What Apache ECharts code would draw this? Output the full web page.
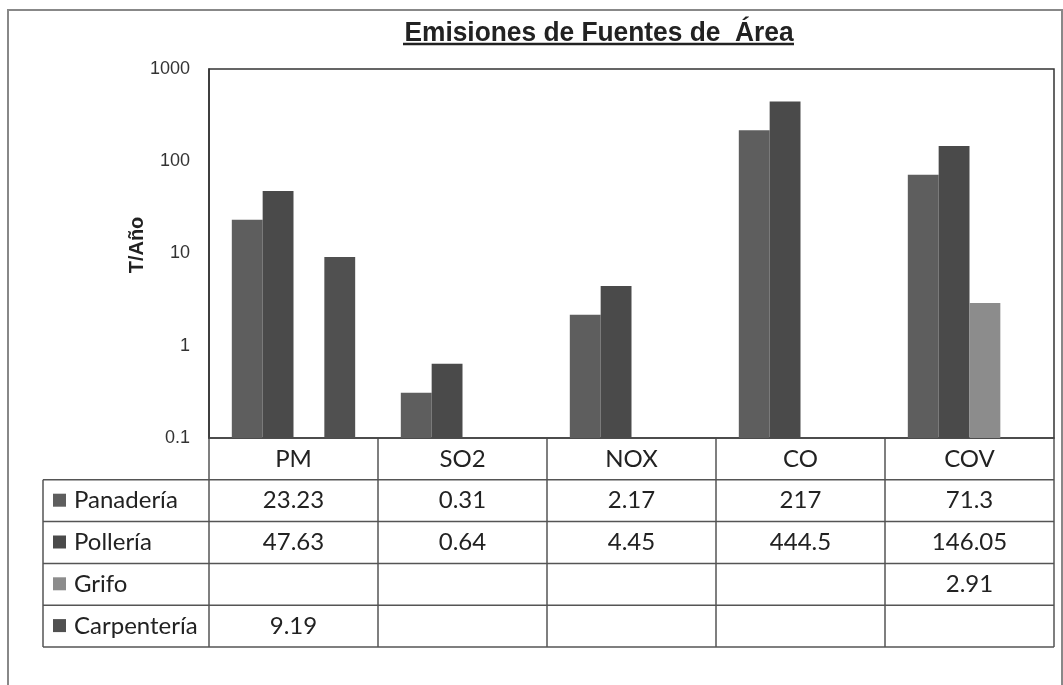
<!DOCTYPE html>
<html>
<head>
<meta charset="utf-8">
<script src="https://cdn.jsdelivr.net/npm/echarts@6/dist/echarts.min.js"></script>
<style>
	html, body { margin: 0; padding: 0; background: #fff; }
	#chart { width: 1063px; height: 685px; }
</style>
</head>
<body>
<div id="chart"></div>
<script>
	const categories = ["PM", "SO2", "NOX", "CO", "COV"];
	const seriesNames = ["Panadería", "Pollería", "Grifo", "Carpentería"];
	const panaderia = [23.23, 0.31, 2.17, 217, 71.3];
	const polleria = [47.63, 0.64, 4.45, 444.5, 146.05];
	const grifo = [null, null, null, null, 2.91];
	const carpenteria = [9.19, null, null, null, null];
	const yTicks = [0.1, 1, 10, 100, 1000];

	const seriesData = [panaderia, polleria, grifo, carpenteria];
	const colors = ["#5e5e5e", "#4a4a4a", "#8c8c8c", "#505050"];

	const tableFont = "Lato, 'DejaVu Sans', sans-serif";
	const arial = "'Liberation Sans', Arial, sans-serif";
	const chart = echarts.init(document.getElementById("chart"));

	const series = seriesNames.map((name, i) => ({
		name: name,
		type: "bar",
		data: seriesData[i],
		barGap: "0%",
		barCategoryGap: "27%",
		itemStyle: { color: colors[i] },
		emphasis: { disabled: true }
	}));

	chart.setOption({
		animation: false,
		backgroundColor: "#fff",
		grid: {
			left: 209,
			right: 9,
			top: 69,
			bottom: 247,
			show: true,
			borderColor: "#333",
			borderWidth: 1.5
		},
		xAxis: {
			type: "category",
			data: categories,
			axisLine: { lineStyle: { color: "#444", width: 1.5 } },
			axisTick: { show: false },
			axisLabel: { show: false }
		},
		yAxis: {
			type: "log",
			logBase: 10,
			min: yTicks[0],
			max: yTicks[yTicks.length - 1],
			startValue: yTicks[0],
			axisLine: { show: true, lineStyle: { color: "#333", width: 1.5 } },
			axisTick: { show: false },
			splitLine: { show: false },
			axisLabel: {
				fontFamily: arial,
				fontSize: 18,
				color: "#333",
				margin: 19,
				formatter: v => String(v)
			}
		},
		series: series
	});

	// tabla de datos bajo el gráfico
	const buildTable = () => {
		const x0 = chart.convertToPixel({ xAxisIndex: 0 }, 0);
		const x1 = chart.convertToPixel({ xAxisIndex: 0 }, 1);
		const band = x1 - x0;
		const plotLeft = x0 - band / 2;
		const plotRight = plotLeft + band * categories.length;
		const top = chart.convertToPixel({ yAxisIndex: 0 }, yTicks[0]);
		const rowH = 41.8;
		const tableLeft = 43;
		const lineStyle = { stroke: "#555", lineWidth: 1.5 };
		const cellFont = "24px " + tableFont;
		const els = [];

		// líneas horizontales
		for (let r = 1; r <= seriesNames.length + 1; r++) {
			const y = top + rowH * r;
			els.push({ type: "line", shape: { x1: tableLeft, y1: y, x2: plotRight, y2: y }, style: lineStyle });
		}
		// líneas verticales
		for (let c = 0; c <= categories.length; c++) {
			const x = plotLeft + band * c;
			els.push({ type: "line", shape: { x1: x, y1: top, x2: x, y2: top + rowH * (seriesNames.length + 1) }, style: lineStyle });
		}
		els.push({ type: "line", shape: { x1: tableLeft, y1: top + rowH, x2: tableLeft, y2: top + rowH * (seriesNames.length + 1) }, style: lineStyle });

		// encabezados
		categories.forEach((cat, c) => {
			els.push({
				type: "text",
				x: plotLeft + band * (c + 0.5),
				y: top + rowH / 2,
				style: { text: cat, font: cellFont, fill: "#222", align: "center", verticalAlign: "middle" }
			});
		});

		// filas
		seriesNames.forEach((name, r) => {
			const cy = top + rowH * (r + 1.5);
			els.push({ type: "rect", shape: { x: 53, y: cy - 7, width: 13, height: 13 }, style: { fill: colors[r] } });
			els.push({
				type: "text",
				x: 74,
				y: cy,
				style: { text: name, font: cellFont, fill: "#222", align: "left", verticalAlign: "middle" }
			});
			seriesData[r].forEach((v, c) => {
				if (v === null) return;
				els.push({
					type: "text",
					x: plotLeft + band * (c + 0.5),
					y: cy,
					style: { text: String(v), font: cellFont, fill: "#222", align: "center", verticalAlign: "middle" }
				});
			});
		});

		// nombre del eje Y
		els.push({
			type: "text",
			x: 137,
			y: 245,
			rotation: Math.PI / 2,
			style: { text: "T/Año", font: "bold 20px " + arial, fill: "#222", align: "center", verticalAlign: "middle" }
		});

		// título subrayado y marco
		els.push({
			type: "text",
			x: 599,
			y: 33,
			scaleX: 0.94,
			style: {
				text: "Emisiones de Fuentes de  Área",
				font: "bold 28px " + arial,
				fill: "#222",
				align: "center",
				verticalAlign: "middle"
			}
		});
		els.push({ type: "line", shape: { x1: 403, y1: 44, x2: 794, y2: 44 }, style: { stroke: "#222", lineWidth: 2.5 } });
		els.push({ type: "polyline", shape: { points: [[8, 690], [8, 10], [1062, 10], [1062, 690]] }, style: { stroke: "#888", lineWidth: 2, fill: null } });

		chart.setOption({ graphic: els });
	};

	buildTable();
</script>
</body>
</html>
